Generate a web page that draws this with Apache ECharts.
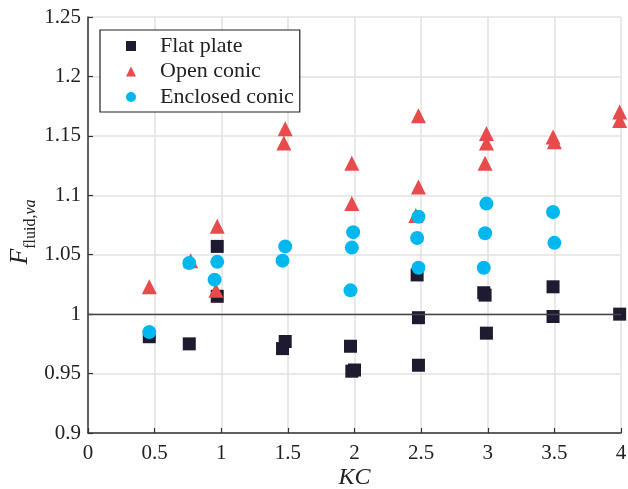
<!DOCTYPE html>
<html><head><meta charset="utf-8">
<script src="https://cdn.jsdelivr.net/npm/echarts@6/dist/echarts.min.js"></script>
<style>html,body{margin:0;padding:0;background:#fff}#c{width:628px;height:489px}</style>
</head><body><div id="c"></div>
<script>
const xTicks = [0, 0.5, 1, 1.5, 2, 2.5, 3, 3.5, 4];
const yTicks = [0.9, 0.95, 1, 1.05, 1.1, 1.15, 1.2, 1.25];
const seriesNames = ['Flat plate', 'Open conic', 'Enclosed conic'];
const flatPlate = [
  [0.46, 0.981], [0.76, 0.975], [0.97, 1.057], [0.97, 1.015],
  [1.48, 0.977], [1.46, 0.971], [1.97, 0.973], [1.98, 0.952], [2.0, 0.953],
  [2.47, 1.033], [2.48, 0.997], [2.48, 0.957],
  [2.97, 1.018], [2.98, 1.016], [2.99, 0.984],
  [3.49, 1.023], [3.49, 0.998], [3.99, 1.0]
];
const openConic = [
  [0.46, 1.023], [0.77, 1.045], [0.96, 1.020], [0.97, 1.074],
  [1.48, 1.156], [1.47, 1.144], [1.98, 1.127], [1.98, 1.093],
  [2.48, 1.167], [2.48, 1.107], [2.46, 1.083],
  [2.99, 1.152], [2.99, 1.144], [2.98, 1.127],
  [3.49, 1.149], [3.5, 1.145], [3.99, 1.170], [3.99, 1.163]
];
const enclosedConic = [
  [0.46, 0.985], [0.76, 1.043], [0.97, 1.044], [0.95, 1.029],
  [1.48, 1.057], [1.46, 1.045], [1.99, 1.069], [1.98, 1.056], [1.97, 1.020],
  [2.48, 1.082], [2.47, 1.064], [2.48, 1.039],
  [2.99, 1.093], [2.98, 1.068], [2.97, 1.039],
  [3.49, 1.086], [3.5, 1.060]
];
const refLineY = 1;

const font = 'Liberation Serif';
const chart = echarts.init(document.getElementById('c'), null, {renderer: 'canvas'});
chart.setOption({
  animation: false,
  backgroundColor: '#fff',
  grid: {left: 88, right: 7, top: 17, bottom: 56, containLabel: false, outerBoundsMode: 'none'},
  xAxis: {
    type: 'value', min: xTicks[0], max: xTicks[xTicks.length - 1], interval: 0.5,
    name: 'KC', nameLocation: 'middle', nameGap: 33, nameMoveOverlap: false,
    nameTextStyle: {fontFamily: font, fontStyle: 'italic', fontSize: 24, color: '#222'},
    axisLine: {show: true, lineStyle: {color: '#333', width: 1.5}},
    axisTick: {show: true, inside: true, length: 5, lineStyle: {color: '#333', width: 1.2}},
    axisLabel: {fontFamily: font, fontSize: 21, color: '#222', margin: 10,
      formatter: v => String(v)},
    splitLine: {show: true, lineStyle: {color: '#e2e2e2', width: 1.5}}
  },
  yAxis: {
    type: 'value', min: yTicks[0], max: yTicks[yTicks.length - 1], interval: 0.05,
    name: '{i|F}{s|fluid,}{si|va}', nameLocation: 'middle', nameGap: 55, nameRotate: 90,
    nameMoveOverlap: false,
    nameTextStyle: {
      padding: [0, 14, 0, 0],
      rich: {
        i: {fontFamily: font, fontStyle: 'italic', fontSize: 26, color: '#222', verticalAlign: 'bottom'},
        s: {fontFamily: font, fontSize: 16, color: '#222', verticalAlign: 'bottom', padding: [0,0,-6,0]},
        si: {fontFamily: font, fontStyle: 'italic', fontSize: 16, color: '#222', verticalAlign: 'bottom', padding: [0,0,-6,0]}
      }
    },
    axisLine: {show: true, lineStyle: {color: '#333', width: 1.5}},
    axisTick: {show: true, inside: true, length: 5, lineStyle: {color: '#333', width: 1.2}},
    axisLabel: {fontFamily: font, fontSize: 21, color: '#222', margin: 7,
      formatter: v => String(+v.toFixed(2))},
    splitLine: {show: true, lineStyle: {color: '#e2e2e2', width: 1.5}}
  },
  legend: {
    orient: 'vertical', left: 100, top: 30,
    data: seriesNames,
    padding: [5, 6, 4, 26],
    itemWidth: 10, itemHeight: 10, itemGap: 3.5,
    borderColor: '#222', borderWidth: 1.2, backgroundColor: '#fff',
    textStyle: {fontFamily: font, fontSize: 22, color: '#222', lineHeight: 22, padding: [0, 0, 0, 19]}
  },
  series: [
    {
      name: seriesNames[0], type: 'scatter', data: flatPlate, symbol: 'rect', symbolSize: 13,
      itemStyle: {color: '#1e1a30', opacity: 1},
      markLine: {
        silent: true, symbol: 'none', label: {show: false},
        lineStyle: {color: '#444', width: 1.3, type: 'solid'},
        data: [{yAxis: refLineY}]
      },
      z: 3
    },
    {
      name: seriesNames[1], type: 'scatter', data: openConic, symbol: 'triangle', symbolSize: 15,
      itemStyle: {color: '#e84b4b', opacity: 1}, z: 4
    },
    {
      name: seriesNames[2], type: 'scatter', data: enclosedConic, symbol: 'circle', symbolSize: 14,
      itemStyle: {color: '#00b8ee', opacity: 1}, z: 5
    }
  ]
});
</script></body></html>
